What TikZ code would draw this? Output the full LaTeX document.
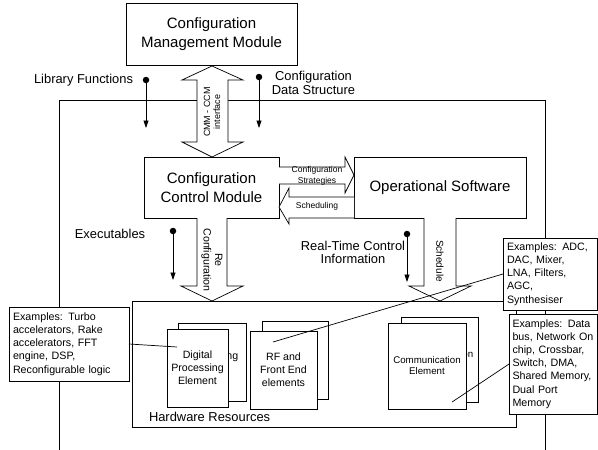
\documentclass[tikz,border=0pt]{standalone}
\usepackage{fontspec}
\setmainfont{Liberation Sans}
\usetikzlibrary{arrows.meta}
\begin{document}
\begin{tikzpicture}[x=1pt,y=-1pt,
  every node/.style={inner sep=0pt, outer sep=0pt},
  line width=0.7pt,
  bigbox/.style={draw, fill=white, font=\fontsize{15}{18.5}\selectfont, align=center},
  hwbox/.style={draw, fill=white, font=\fontsize{10.6}{13}\selectfont, align=center},
  lbl/.style={font=\fontsize{12.9}{13.5}\selectfont, align=center},
  exbox/.style={draw, fill=white, font=\fontsize{10.7}{13.2}\selectfont, align=left, anchor=north west, inner xsep=4pt},
  blockarrow/.style={draw, fill=white, line join=miter},
  thinarrow/.style={-{Triangle[length=7.5pt,width=5pt]}},
  dotstart/.style={circle, fill=black, minimum size=6.5pt},
]
\useasboundingbox (0,0) rectangle (598,450);

% outer frame
\draw (59,450) -- (59,100) -- (545,100) -- (545,450);

% library functions / configuration data structure
\node[dotstart] (libdot) at (146,80) {};
\coordinate (libend) at (146,128);
\draw[thinarrow] (libdot.center) -- (libend);
\node[lbl, anchor=east] (liblbl) at (133,80) {Library Functions};

\node[dotstart] (cdsdot) at (259,77) {};
\coordinate (cdsend) at (259,128);
\draw[thinarrow] (cdsdot.center) -- (cdsend);
\node[lbl] (cdslbl) at (313.5,83) {Configuration\\Data Structure};

% main boxes
\node[bigbox, minimum width=171pt, minimum height=62pt] (cmm) at (211.5,34) {Configuration\\Management Module};
\node[bigbox, minimum width=135pt, minimum height=61pt] (ccm) at (211.5,187.5) {Configuration\\Control Module};
\node[bigbox, minimum width=172pt, minimum height=61pt] (os) at (440,187.5) {Operational Software};
\node[draw, fill=white, minimum width=384pt, minimum height=126pt] (hw) at (324,364) {};

% CMM - CCM double arrow
\draw[blockarrow] (212,66) -- (243,80) -- (228,80) -- (228,142) -- (243,142) -- (212,157)
  -- (182,142) -- (197,142) -- (197,80) -- (182,80) -- cycle;
\node[font=\fontsize{9}{10}\selectfont, align=center, rotate=90] (ifc) at (212,112) {CMM - CCM\\interface};

% configuration strategies / scheduling
\draw[blockarrow] (279,167) -- (345,167) -- (345,157) -- (354,175) -- (345,193) -- (345,184) -- (279,184);
\draw[blockarrow] (354,197) -- (289,197) -- (289,188) -- (279,207) -- (289,224) -- (289,218) -- (354,218);
\node[font=\fontsize{8.5}{11}\selectfont, align=center] (cslbl) at (317,175.5) {Configuration\\Strategies};
\node[font=\fontsize{8.5}{11}\selectfont] (schlbl) at (317,206) {Scheduling};

% reconfiguration / schedule arrows
\draw[blockarrow] (197,218) -- (197,286) -- (181,286) -- (212,301) -- (243,286) -- (227,286) -- (227,218);
\node[font=\fontsize{10.6}{11.5}\selectfont, align=center, rotate=-90] (recfg) at (212,260) {Re\\Configuration};
\draw[blockarrow] (424,218) -- (424,286) -- (409,286) -- (440,301) -- (471,286) -- (456,286) -- (456,218);
\node[font=\fontsize{10}{11}\selectfont, rotate=-90] (schd) at (440,261) {Schedule};

% executables / real-time control
\node[dotstart] (exdot) at (173,231) {};
\coordinate (exend) at (173,280);
\draw[thinarrow] (exdot.center) -- (exend);
\node[lbl] (exlbl) at (110,234) {Executables};

\node[dotstart] (rtdot) at (407,234) {};
\coordinate (rtend) at (407,282);
\draw[thinarrow] (rtdot.center) -- (rtend);
\node[lbl] (rtlbl) at (353,252.5) {Real-Time Control\\Information};

% hardware elements (back cards, mostly hidden)
\node[hwbox, minimum width=68pt, minimum height=78pt] (dpeb) at (212,362) {};
\node[font=\fontsize{10.6}{13}\selectfont] (dpebt) at (212,357) {Processing};
\node[hwbox, minimum width=61pt, minimum height=78pt] (dpe) at (197.5,368) {Digital\\Processing\\Element};

\node[hwbox, minimum width=66pt, minimum height=78pt] (rfb) at (295,360) {};
\node[font=\fontsize{10.6}{13}\selectfont] (rfbt) at (295,358) {Front End};
\node[hwbox, minimum width=67pt, minimum height=78pt] (rf) at (283.5,370) {RF and\\Front End\\elements};

\node[hwbox, minimum width=77pt, minimum height=85pt] (comb) at (439.5,359.5) {};
\node[font=\fontsize{9.7}{11}\selectfont] (combt) at (439.5,354) {Communication};
\node[hwbox, font=\fontsize{9.7}{11}\selectfont, minimum width=78pt, minimum height=86pt] (com) at (427,366) {Communication\\Element};

\node[font=\fontsize{12.9}{14}\selectfont, anchor=west] (hwlbl) at (149,417) {Hardware Resources};

% example boxes
\node[exbox, minimum width=120pt, minimum height=74pt, text width=112pt] (ex1) at (9,307)
  {Examples: Turbo\\accelerators, Rake\\accelerators, FFT\\engine, DSP,\\Reconfigurable logic};
\node[exbox, minimum width=94pt, minimum height=72pt, text width=86pt] (adc) at (503,238)
  {Examples: ADC,\\DAC, Mixer,\\LNA, Filters,\\AGC,\\Synthesiser};
\node[exbox, inner xsep=3.5pt, minimum width=88.5pt, minimum height=100pt, text width=81.5pt] (data) at (509,314)
  {Examples: Data\\bus, Network On\\chip, Crossbar,\\Switch, DMA,\\Shared Memory,\\Dual Port\\Memory};

% connectors
\coordinate (dpept) at (177,347);
\draw (ex1.east) -- (dpept);
\coordinate (rfpt) at (273,342);
\draw (adc.west) -- (rfpt);
\coordinate (compt) at (452,402);
\draw (data.west) -- (compt);
\end{tikzpicture}
\end{document}
